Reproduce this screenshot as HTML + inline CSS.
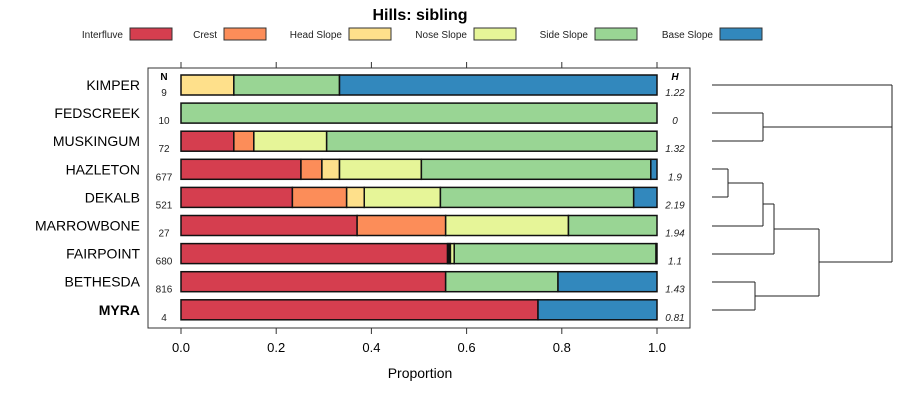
<!DOCTYPE html>
<html><head><meta charset="utf-8"><style>body{margin:0;background:#fff}svg{font-family:"Liberation Sans",sans-serif}</style></head>
<body>
<svg id="c" width="900" height="400" xmlns="http://www.w3.org/2000/svg"></svg>
<script>
const categories=["KIMPER","FEDSCREEK","MUSKINGUM","HAZLETON","DEKALB","MARROWBONE","FAIRPOINT","BETHESDA","MYRA"];
const seriesNames=["Interfluve","Crest","Head Slope","Nose Slope","Side Slope","Base Slope"];
const interfluve=[0,0,0.111,0.252,0.234,0.37,0.56,0.556,0.75];
const crest=[0,0,0.042,0.044,0.114,0.186,0.003,0,0];
const headSlope=[0.111,0,0,0.037,0.037,0,0.003,0,0];
const noseSlope=[0,0,0.153,0.172,0.16,0.258,0.008,0,0];
const sideSlope=[0.222,1,0.694,0.482,0.406,0.186,0.424,0.236,0];
const baseSlope=[0.667,0,0,0.013,0.049,0,0.002,0.208,0.25];
const nValues=["9","10","72","677","521","27","680","816","4"];
const hValues=["1.22","0","1.32","1.9","2.19","1.94","1.1","1.43","0.81"];
const xTicks=[0,0.2,0.4,0.6,0.8,1.0];
const colors=["#d53e4f","#fc8d59","#fee08b","#e6f598","#99d594","#3288bd"];
const svg=document.getElementById('c');const NS="http://www.w3.org/2000/svg";
function mk(t,a,p){const e=document.createElementNS(NS,t);for(const k in a)e.setAttribute(k,a[k]);(p||svg).appendChild(e);return e;}
const x=v=>181+v*476;const y=i=>85+i*28.1;
const series=[interfluve,crest,headSlope,noseSlope,sideSlope,baseSlope];
let t=mk('text',{x:420,y:20,'text-anchor':'middle','font-size':16,'font-weight':'bold'});t.textContent="Hills: sibling";


const legX=[[123,130],[217,224],[342,349],[467,474],[588,595],[713,720]];
seriesNames.forEach((n,i)=>{
 const g=mk('g',{});
 
 
 let tt=mk('text',{x:legX[i][0],y:38,'text-anchor':'end','font-size':10,fill:'#222'},g);tt.textContent=n;
 mk('rect',{x:legX[i][1],y:28,width:42,height:12,fill:colors[i],stroke:'#333','stroke-width':1},g);
});
const box=mk('rect',{x:148,y:68,width:542,height:260,fill:'none',stroke:'#333'});


xTicks.forEach(v=>{
 mk('line',{x1:x(v),x2:x(v),y1:328,y2:334,stroke:'#333'});
 mk('line',{x1:x(v),x2:x(v),y1:62,y2:68,stroke:'#333'});
 const l=mk('text',{x:x(v),y:352,'text-anchor':'middle','font-size':13});l.textContent=v.toFixed(1);
 
 
});
t=mk('text',{x:420,y:378,'text-anchor':'middle','font-size':14});t.textContent="Proportion";


t=mk('text',{x:164,y:80,'text-anchor':'middle','font-size':10,'font-weight':'bold'});t.textContent="N";
t=mk('text',{x:675,y:80,'text-anchor':'middle','font-size':10,'font-weight':'bold','font-style':'italic'});t.textContent="H";
categories.forEach((c,i)=>{
 const cy=y(i);
 const l=mk('text',{x:140,y:cy+5,'text-anchor':'end','font-size':14,'font-weight':i==8?'bold':'normal'});l.textContent=c;
 
 
 const n=mk('text',{x:164,y:cy+11,'text-anchor':'middle','font-size':10,fill:'#222'});n.textContent=nValues[i];
 
 
 const h=mk('text',{x:675,y:cy+11,'text-anchor':'middle','font-size':10,'font-style':'italic',fill:'#222'});h.textContent=hValues[i];
 
 
 let acc=0;
 series.forEach((s,j)=>{
  const v=s[i];if(v<=0)return;
  const r=mk('rect',{x:x(acc),y:cy-10,width:x(acc+v)-x(acc),height:20,fill:colors[j],stroke:'#111','stroke-width':1.5});
  
  
  acc+=v;
 });
});
const dend=[[712,85,892,85],[892,85,892,262],[892,127,763,127],[763,113,763,141],[712,113,763,113],[712,141,763,141],
[892,262,819,262],[819,229,819,296],[819,229,774,229],[774,204,774,254],[712,254,774,254],[774,204,763,204],[763,183,763,226],[712,226,763,226],[763,183,728,183],[728,169,728,197],[712,169,728,169],[712,197,728,197],
[819,296,755,296],[755,282,755,310],[712,282,755,282],[712,310,755,310]];
const dg=mk('g',{});


dend.forEach(d=>mk('line',{x1:d[0],y1:d[1],x2:d[2],y2:d[3],stroke:'#222','stroke-width':1},dg));
</script>
</body></html>
